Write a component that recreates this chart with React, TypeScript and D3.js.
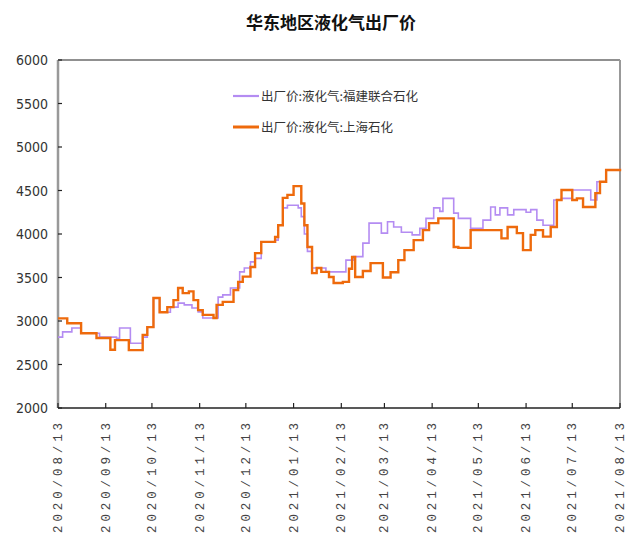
import React from "react";
import * as d3 from "d3";

const title = "华东地区液化气出厂价";
const seriesNames = ["出厂价:液化气:福建联合石化", "出厂价:液化气:上海石化"];
const yTicks = [2000, 2500, 3000, 3500, 4000, 4500, 5000, 5500, 6000];
const xTickDates = [
  "2020-08-13", "2020-09-13", "2020-10-13", "2020-11-13", "2020-12-13", "2021-01-13",
  "2021-02-13", "2021-03-13", "2021-04-13", "2021-05-13", "2021-06-13", "2021-07-13", "2021-08-13",
];

// 福建联合石化 (purple) – dates where the price changed, and the new price
const fujianDates = [
  "2020-08-13", "2020-08-16", "2020-08-22", "2020-08-28", "2020-09-09", "2020-09-20", "2020-09-22",
  "2020-09-29", "2020-10-07", "2020-10-10", "2020-10-14", "2020-10-18", "2020-10-25", "2020-10-30",
  "2020-11-03", "2020-11-08", "2020-11-12", "2020-11-15", "2020-11-25", "2020-11-28", "2020-12-03",
  "2020-12-09", "2020-12-12", "2020-12-16", "2020-12-19", "2020-12-23", "2021-01-01", "2021-01-03",
  "2021-01-06", "2021-01-09", "2021-01-16", "2021-01-18", "2021-01-20", "2021-01-22", "2021-01-25",
  "2021-02-03", "2021-02-16", "2021-02-21", "2021-02-27", "2021-03-03", "2021-03-11", "2021-03-15",
  "2021-03-19", "2021-03-24", "2021-03-31", "2021-04-05", "2021-04-09", "2021-04-14", "2021-04-18",
  "2021-04-20", "2021-04-27", "2021-04-30", "2021-05-08", "2021-05-16", "2021-05-21", "2021-05-24",
  "2021-05-27", "2021-06-01", "2021-06-05", "2021-06-13", "2021-06-16", "2021-06-20", "2021-06-24",
  "2021-07-01", "2021-07-06", "2021-07-13", "2021-07-25", "2021-07-29", "2021-08-04", "2021-08-13",
];
const fujianValues = [
  2815, 2875, 2920, 2860, 2815, 2800, 2920,
  2745, 2815, 2930, 3265, 3100, 3160, 3205,
  3185, 3150, 3105, 3035, 3275, 3300, 3380,
  3565, 3610, 3680, 3720, 3910, 3930, 4100,
  4300, 4330, 4300, 4200, 4000, 3800, 3610,
  3565, 3700, 3740, 3895, 4125, 4010, 4140,
  4080, 4020, 3990, 4065, 4180, 4300, 4260,
  4410, 4240, 4180, 4065, 4160, 4310, 4220,
  4300, 4220, 4280, 4250, 4280, 4160, 4100,
  4390, 4410, 4505, 4390, 4600, 4735, 4750,
];

// 上海石化 (orange)
const shanghaiDates = [
  "2020-08-13", "2020-08-19", "2020-08-28", "2020-09-07", "2020-09-16", "2020-09-19", "2020-09-28",
  "2020-10-07", "2020-10-10", "2020-10-14", "2020-10-18", "2020-10-23", "2020-10-27", "2020-10-30",
  "2020-11-02", "2020-11-06", "2020-11-09", "2020-11-12", "2020-11-15", "2020-11-22", "2020-11-24",
  "2020-11-28", "2020-12-05", "2020-12-08", "2020-12-11", "2020-12-16", "2020-12-19", "2020-12-23",
  "2021-01-01", "2021-01-03", "2021-01-06", "2021-01-09", "2021-01-13", "2021-01-18", "2021-01-20",
  "2021-01-22", "2021-01-25", "2021-01-28", "2021-01-31", "2021-02-05", "2021-02-08", "2021-02-14",
  "2021-02-18", "2021-02-20", "2021-02-22", "2021-02-27", "2021-03-04", "2021-03-12", "2021-03-17",
  "2021-03-22", "2021-03-26", "2021-04-01", "2021-04-07", "2021-04-11", "2021-04-17", "2021-04-27",
  "2021-04-30", "2021-05-08", "2021-05-28", "2021-06-01", "2021-06-07", "2021-06-11", "2021-06-16",
  "2021-06-19", "2021-06-24", "2021-06-29", "2021-07-03", "2021-07-06", "2021-07-13", "2021-07-16",
  "2021-07-20", "2021-07-28", "2021-07-31", "2021-08-04", "2021-08-13",
];
const shanghaiValues = [
  3030, 2975, 2860, 2805, 2670, 2780, 2665,
  2840, 2930, 3265, 3100, 3160, 3240, 3380,
  3320, 3340, 3240, 3125, 3070, 3035, 3185,
  3220, 3355, 3450, 3510, 3620, 3780, 3910,
  3965, 4100, 4415, 4450, 4550, 4350, 4100,
  3850, 3550, 3610, 3565, 3505, 3437, 3450,
  3600, 3735, 3505, 3575, 3665, 3500, 3560,
  3700, 3815, 3930, 4045, 4125, 4180, 3850,
  3840, 4045, 3950, 4080, 4010, 3815, 3990,
  4045, 3970, 4080, 4390, 4505, 4390, 4410,
  4310, 4470, 4600, 4735, 4750,
];

const colors = ["#b48cf2", "#ee6a0c"];
const widths = [1.6, 2.4];

const parse = d3.timeParse("%Y-%m-%d");
const fmt = d3.timeFormat("%Y/%m/%d");

export default function App() {
  const W = 631, H = 540;
  const m = { left: 58, right: 620, top: 60, bottom: 408 };
  const x = d3.scaleTime()
    .domain([parse(xTickDates[0])!, parse(xTickDates[xTickDates.length - 1])!])
    .range([m.left, m.right]);
  const y = d3.scaleLinear().domain([2000, 6000]).range([m.bottom, m.top]);

  const line = d3.line<[Date, number]>()
    .x((d) => x(d[0]))
    .y((d) => y(d[1]))
    .curve(d3.curveStepAfter);

  const series = [
    fujianDates.map((d, i) => [parse(d)!, fujianValues[i]] as [Date, number]),
    shanghaiDates.map((d, i) => [parse(d)!, shanghaiValues[i]] as [Date, number]),
  ];

  return (
    <svg width={W} height={H} style={{ position: "absolute", left: 0, top: 0, background: "#fff" }}>
      <text x={331} y={29} textAnchor="middle" fontSize={17} fontWeight="bold"
        fontFamily="'Noto Sans CJK SC', sans-serif" fill="#111">{title}</text>

      {/* frame */}
      <line x1={m.left} x2={m.right} y1={m.top} y2={m.top} stroke="#222" strokeWidth={1.2} />
      <line x1={m.right} x2={m.right} y1={m.top} y2={m.bottom} stroke="#999" strokeWidth={2} />
      <line x1={m.left} x2={m.left} y1={m.top} y2={m.bottom} stroke="#999" strokeWidth={2.5} />
      <line x1={m.left} x2={m.right} y1={m.bottom} y2={m.bottom} stroke="#222" strokeWidth={1.5} />

      {yTicks.map((t) => (
        <g key={t}>
          <line x1={m.left} x2={m.left + 4} y1={y(t)} y2={y(t)} stroke="#222" strokeWidth={1.2} />
          <text x={48} y={y(t) + 5} textAnchor="end" fontSize={14}
            fontFamily="'DejaVu Sans Condensed', 'Liberation Sans Narrow', 'Liberation Sans', sans-serif"
            fill="#333">{t}</text>
        </g>
      ))}

      {xTickDates.map((s) => {
        const xv = x(parse(s)!);
        return (
          <g key={s}>
            <line x1={xv} x2={xv} y1={m.bottom} y2={m.bottom - 5} stroke="#222" strokeWidth={1.2} />
            <text transform={`translate(${xv + 4},${m.bottom + 11}) rotate(-90)`} textAnchor="end"
              fontSize={12.5} letterSpacing={3.9} fontFamily="'Liberation Mono', monospace" fill="#444">
              {fmt(parse(s)!)}
            </text>
          </g>
        );
      })}

      {series.map((data, i) => (
        <path key={i} d={line(data) ?? ""} fill="none" stroke={colors[i]} strokeWidth={widths[i]} />
      ))}

      {seriesNames.map((n, i) => (
        <g key={n}>
          <line x1={233} x2={259} y1={96 + i * 31} y2={96 + i * 31} stroke={colors[i]} strokeWidth={widths[i] + 0.6} />
          <text x={261} y={101 + i * 31} fontSize={12.5}
            fontFamily="'Noto Sans CJK SC', sans-serif" fill="#333">{n}</text>
        </g>
      ))}
    </svg>
  );
}
